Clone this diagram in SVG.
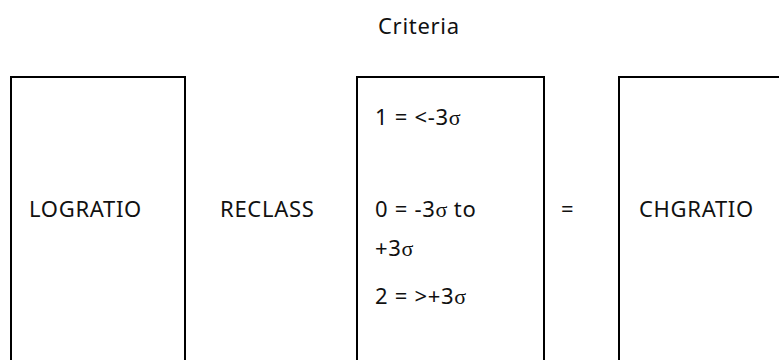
<svg xmlns="http://www.w3.org/2000/svg" width="779" height="360" viewBox="0 0 779 360">
<style>
  text { font-family: "Noto Sans", "Open Sans", "DejaVu Sans", sans-serif; font-size: 22px; letter-spacing: 0.7px; fill: #111; }
  .s { font-family: "Liberation Serif", "DejaVu Serif", serif; font-size: 22px; letter-spacing: 0; }
  .box { fill: none; stroke: #000; stroke-width: 2; }
</style>
<rect width="779" height="360" fill="#fff"/>
<g id="header">
  <text x="378" y="34">Criteria</text>
</g>
<g id="logratio">
  <path class="box" d="M11,360 V77 H185 V360"/>
  <text x="29" y="217">LOGRATIO</text>
</g>
<g id="reclass">
  <text x="220" y="217">RECLASS</text>
</g>
<g id="criteria">
  <path class="box" d="M357,360 V77 H544 V360"/>
  <text x="375" y="125">1 = &lt;-3<tspan class="s">σ</tspan></text>
  <text x="375" y="217">0 = -3<tspan class="s">σ</tspan> to</text>
  <text x="375" y="256">+3<tspan class="s">σ</tspan></text>
  <text x="375" y="304">2 = &gt;+3<tspan class="s">σ</tspan></text>
</g>
<g id="equals">
  <text x="561" y="217">=</text>
</g>
<g id="chgratio">
  <path class="box" d="M619,360 V77 H779"/>
  <text x="639" y="217">CHGRATIO</text>
</g>
<g id="connectors"></g>
</svg>
